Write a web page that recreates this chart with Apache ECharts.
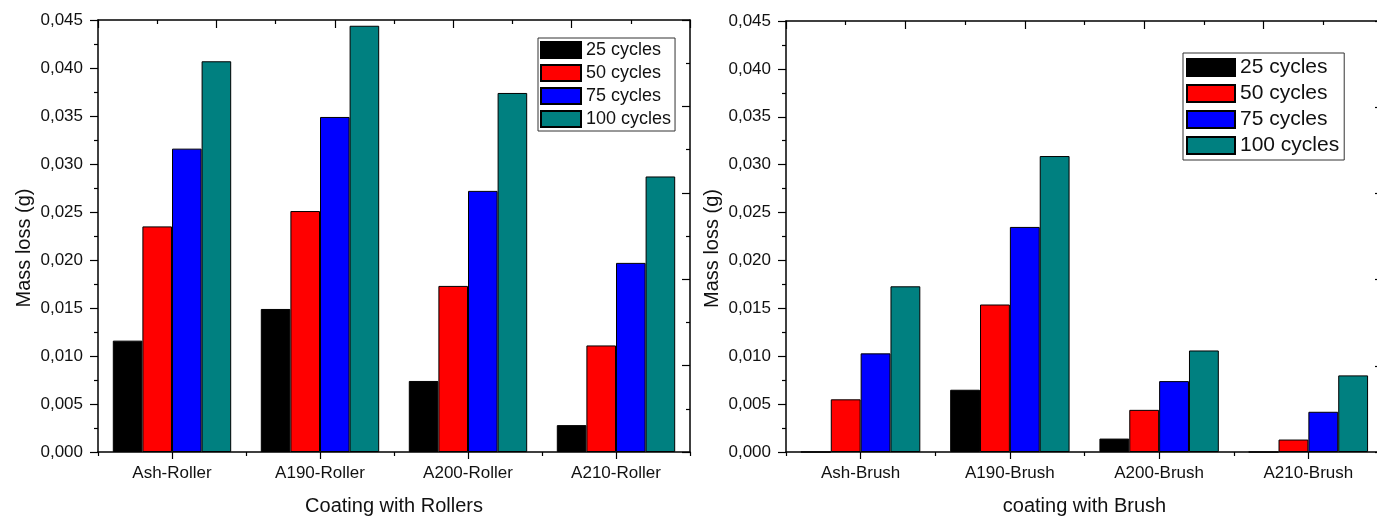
<!DOCTYPE html>
<html>
<head>
<meta charset="utf-8">
<script src="https://cdn.jsdelivr.net/npm/echarts@6/dist/echarts.min.js"></script>
<style>
html,body{margin:0;padding:0;background:#fff;overflow:hidden;}
#chart{width:1400px;height:521px;}
</style>
</head>
<body>
<div id="chart"></div>
<script>
const categoriesRoller = ['Ash-Roller', 'A190-Roller', 'A200-Roller', 'A210-Roller'];
const categoriesBrush = ['Ash-Brush', 'A190-Brush', 'A200-Brush', 'A210-Brush'];
const seriesNames = ['25 cycles', '50 cycles', '75 cycles', '100 cycles'];
const seriesColors = ['#000000', '#FF0000', '#0000FF', '#008080'];

const roller25 = [0.0116, 0.0149, 0.0074, 0.0028];
const roller50 = [0.0235, 0.0251, 0.0173, 0.0111];
const roller75 = [0.0316, 0.0349, 0.0272, 0.0197];
const roller100 = [0.0407, 0.0444, 0.0374, 0.0287];

const brush25 = [0, 0.0065, 0.0014, 0];
const brush50 = [0.0055, 0.0154, 0.0044, 0.0013];
const brush75 = [0.0103, 0.0235, 0.0074, 0.0042];
const brush100 = [0.0173, 0.0309, 0.0106, 0.0080];

const yMin = 0, yMax = 0.045, yInterval = 0.005;
const xTitleRoller = 'Coating with Rollers';
const xTitleBrush = 'coating with Brush';
const yTitle = 'Mass loss (g)';

const FONT = "'Liberation Sans', Arial, sans-serif";
const lineStyle = { color: '#000', width: 1.5 };
const tickLine = { color: '#000', width: 1.2 };

function fmt(v) { return v.toFixed(3).replace('.', ','); }

function catAxis(grid, cats, name) {
  return [
    { type: 'category', gridIndex: grid, position: 'bottom', data: cats,
      axisLine: { show: true, lineStyle: lineStyle },
      axisTick: { show: true, alignWithLabel: true, length: 7, lineStyle: tickLine },
      axisLabel: { fontFamily: FONT, fontSize: 17, color: '#111', margin: 13 },
      name: name, nameLocation: 'middle', nameGap: 44,
      nameTextStyle: { fontFamily: FONT, fontSize: 20, color: '#111', verticalAlign: 'top' },
      splitLine: { show: false } },
    { type: 'category', gridIndex: grid, position: 'bottom', data: cats,
      axisLine: { show: false },
      axisTick: { show: true, alignWithLabel: false, length: 4, lineStyle: tickLine },
      axisLabel: { show: false }, splitLine: { show: false } },
    { type: 'value', gridIndex: grid, position: 'top', min: 0, max: 5, interval: 1,
      axisLine: { show: true, lineStyle: lineStyle },
      axisTick: { show: true, inside: true, length: 8, lineStyle: tickLine },
      minorTick: { show: true, splitNumber: 2, length: 4, lineStyle: tickLine },
      axisLabel: { show: false }, splitLine: { show: false }, minorSplitLine: { show: false } }
  ];
}

function valAxes(grid) {
  return [
    { type: 'value', gridIndex: grid, position: 'left', min: yMin, max: yMax, interval: yInterval,
      axisLine: { show: true, lineStyle: lineStyle },
      axisTick: { show: true, length: 8, lineStyle: tickLine },
      minorTick: { show: true, splitNumber: 2, length: 4, lineStyle: tickLine },
      axisLabel: { fontFamily: FONT, fontSize: 17, color: '#111', margin: 15, formatter: fmt },
      splitLine: { show: false },
      name: yTitle, nameLocation: 'middle', nameGap: 64,
      nameTextStyle: { fontFamily: FONT, fontSize: 20, color: '#111', padding: [0, 24, 0, 0] } },
    { type: 'value', gridIndex: grid, position: 'right', min: 0, max: 5, interval: 1,
      axisLine: { show: true, lineStyle: lineStyle },
      axisTick: { show: true, inside: true, length: 8, lineStyle: tickLine },
      minorTick: { show: true, splitNumber: 2, length: 4, lineStyle: tickLine },
      axisLabel: { show: false }, splitLine: { show: false } }
  ];
}

const rollerData = [roller25, roller50, roller75, roller100];
const brushData = [brush25, brush50, brush75, brush100];

const series = [];
[rollerData, brushData].forEach(function (set, g) {
  set.forEach(function (vals, i) {
    series.push({
      type: 'bar', name: seriesNames[i], data: vals,
      xAxisIndex: g * 3, yAxisIndex: g * 2,
      barGap: '0%', barCategoryGap: '20%',
      itemStyle: { color: seriesColors[i], borderColor: '#000', borderWidth: 1 },
      emphasis: { disabled: true }
    });
  });
});

const chart = echarts.init(document.getElementById('chart'));
chart.setOption({
  animation: false,
  backgroundColor: '#fff',
  grid: [
    { left: 98, top: 20, width: 592, height: 436 },
    { left: 786, top: 21, width: 597, height: 431 }
  ],
  legend: [
    { data: seriesNames, orient: 'vertical', left: 538, top: 38, icon: 'rect',
      itemWidth: 40, itemHeight: 16, itemGap: 5, padding: [3, 4, 3, 2],
      borderColor: '#333', borderWidth: 1, selectedMode: false,
      textStyle: { fontFamily: FONT, fontSize: 18, color: '#111', lineHeight: 18 } },
    { data: seriesNames, orient: 'vertical', left: 1183, top: 53, icon: 'rect',
      itemWidth: 48, itemHeight: 17, itemGap: 5, padding: [4, 5, 4, 3],
      borderColor: '#333', borderWidth: 1, selectedMode: false,
      textStyle: { fontFamily: FONT, fontSize: 21, color: '#111', lineHeight: 21 } }
  ],
  xAxis: catAxis(0, categoriesRoller, xTitleRoller).concat(catAxis(1, categoriesBrush, xTitleBrush)),
  yAxis: valAxes(0).concat(valAxes(1)),
  series: series
});
</script>
</body>
</html>
